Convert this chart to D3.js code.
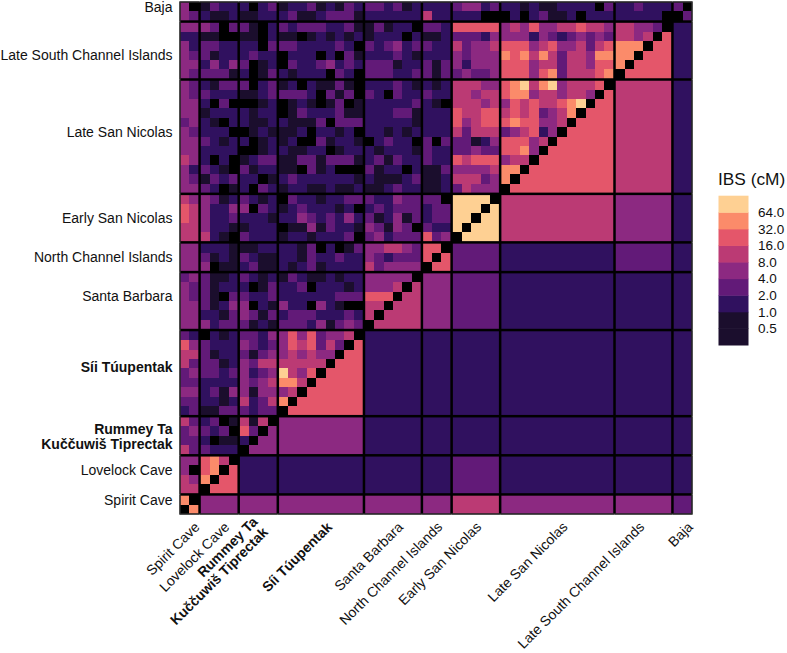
<!DOCTYPE html>
<html>
<head>
<meta charset="utf-8">
<script src="https://cdn.jsdelivr.net/npm/d3@7"></script>
<style>
  body { margin: 0; background: #fff; }
  text { font-family: "Liberation Sans", Arial, sans-serif; fill: #111; }
</style>
</head>
<body>
<div id="chart"></div>
<script>
// groups, bottom-left to top-right
const groups = ["Spirit Cave", "Lovelock Cave", "Rummey Ta\nKuččuwiš Tiprectak", "Síi Túupentak", "Santa Barbara",
  "North Channel Islands", "Early San Nicolas", "Late San Nicolas", "Late South Channel Islands", "Baja"];
const groupSizes = [2, 4, 4, 9, 6, 3, 5, 12, 6, 2];
const boldGroups = ["Rummey Ta\nKuččuwiš Tiprectak", "Síi Túupentak"];
// which sample of the group carries its axis label
const labelSample = [1, 2, 1.4, 4.6, 3, 1, 2, 6, 2, 1];

// IBS in cM stood for by each digit in the tables below (0 = none shared)
const binValues = [0, 0.7, 1.4, 2.8, 5.6, 11, 22, 45, 90];

// individual pairs: one row per sample from the top of the heatmap, left to right up to the diagonal
const pairRows = [
  "40 1322 2023 122312132 332312 222 34423 221211222203 223222 3",
  "43 2112 1122 231123331 222222 522 22200 020231120222 222220",
  "44 4303 3102 323332231 131220 332 66666 454644556554 55443",
  "22 1100 1102 110121212 122202 112 33324 444243234343 5545",
  "42 3322 2203 332222320 323423 322 53445 666456445356 777",
  "43 3122 2322 022202031 222321 222 43444 767575355477 77",
  "44 2424 3012 032234232 333122 313 42444 666455355466 7",
  "43 3331 2013 212220320 333223 313 34334 666467355567",
  "43 2133 3023 120211310 222321 212 55544 67857845556",
  "43 3222 1123 333203130 320322 322 55455 6774554554",
  "44 2030 0012 012101301 222223 210 55545 465655678",
  "44 1222 2122 013222311 222331 222 65566 56563457",
  "34 2102 2112 211130333 222221 222 64566 6766445",
  "43 2220 0121 112022120 221212 222 53555 345624",
  "44 3212 2012 120031221 023220 303 33124 66645",
  "44 2222 0012 211220122 212221 322 33433 6674",
  "54 2020 1233 113313331 231322 322 65666 455",
  "42 3210 3122 110312000 312202 113 44445 77",
  "43 1323 2201 232222221 211123 112 55534 7",
  "44 3201 2032 122112112 112322 112 35444",
  "54 4312 3212 032212233 322433 330 8888",
  "65 4224 4032 123222120 232333 233 888",
  "65 4223 2221 224323242 312413 233 88",
  "55 4221 1222 011413221 431430 322 8",
  "55 5210 3222 122122230 342333 634",
  "44 2221 1122 221302013 445543 66",
  "44 3121 3211 221322322 432333 6",
  "44 4011 2311 212312222 534444",
  "34 3112 3212 132112122 44444",
  "43 3122 2013 223022212 4445",
  "43 3103 3223 222222333 666",
  "44 3124 4021 422042100 55",
  "44 2213 4313 233322232 5",
  "44 4233 3121 333241343",
  "32 0212 3324 46463445",
  "64 3222 4323 4656353",
  "55 3122 3134 454544",
  "53 3312 4355 55555",
  "34 3323 4234 8546",
  "33 2222 4345 775",
  "44 2314 4144 45",
  "33 2212 5235 7",
  "23 1133 3233",
  "53 2301 515",
  "34 3230 63",
  "33 2011 2",
  "53 3222",
  "44 675",
  "40 67",
  "54 7",
  "55",
  "7",
  ""
];

// group means: groupMeans[a][b - a] for groups a <= b
const groupMeans = [
  [7, 4, 4, 4, 4, 4, 5, 4, 4, 3],
  [6, 2, 2, 2, 2, 3, 2, 2, 2],
  [4, 4, 2, 2, 2, 2, 2, 2],
  [6, 2, 2, 2, 2, 2, 2],
  [5, 4, 3, 2, 2, 2],
  [6, 3, 2, 3, 2],
  [8, 5, 4, 2],
  [6, 5, 2],
  [6, 2],
  [3]
];

const thresholds = [0.25, 1, 2, 4, 8, 16, 32, 64];
const binColors = ["#000000", "#1b0e2d", "#30115f", "#621a78", "#8c2981", "#bb3a74", "#e4566a", "#fb8b6a", "#fed093"];
const legendTicks = [0.5, 1, 2, 4, 8, 16, 32, 64];
const legendBreaks = [0.25, 0.5, 1, 2, 4, 8, 16, 32, 64, 128];

const width = 787, height = 653;
const plotLeft = 180, plotRight = 692, plotTop = 2, plotBottom = 514;
const gap = 0.16;
const lineStep = 14.6;

const svg = d3.select("#chart").append("svg").attr("width", width).attr("height", height);

// sample position = running index plus the gaps between panels
const nSamples = d3.sum(groupSizes);
const groupStart = Array.from(d3.cumsum([0].concat(groupSizes))).slice(0, groupSizes.length);
const posExtent = nSamples + gap * (groups.length - 1);
const x = d3.scaleLinear().domain([0, posExtent]).range([plotLeft, plotRight]);
const y = d3.scaleLinear().domain([0, posExtent]).range([plotBottom, plotTop]);
const color = d3.scaleThreshold().domain(thresholds).range(binColors);

const sampleGroup = [];
groupSizes.forEach((n, g) => d3.range(n).forEach(() => sampleGroup.push(g)));
const samplePos = d3.range(nSamples).map(i => i + sampleGroup[i] * gap);

const cells = [];
pairRows.forEach((row, r) => {
  const digits = row.replace(/ /g, "");
  const rowSample = nSamples - 1 - r;
  d3.range(nSamples).forEach(col => {
    let bin;
    if (col === rowSample) bin = 0;
    else if (col < rowSample) bin = +digits[col] || 0;
    else {
      const a = sampleGroup[rowSample], b = sampleGroup[col];
      bin = groupMeans[a][b - a];
    }
    cells.push({ row: rowSample, col: col, value: binValues[bin] });
  });
});

svg.append("rect")
  .attr("x", plotLeft).attr("y", plotTop)
  .attr("width", plotRight - plotLeft).attr("height", plotBottom - plotTop)
  .attr("fill", "#000");

svg.append("g").selectAll("rect")
  .data(cells)
  .join("rect")
  .attr("x", d => x(samplePos[d.col]))
  .attr("y", d => y(samplePos[d.row] + 1))
  .attr("width", x(1) - x(0))
  .attr("height", y(0) - y(1))
  .attr("fill", d => color(d.value))
  .attr("shape-rendering", "crispEdges");

// panel borders
const panels = [];
groups.forEach((_, a) => groups.forEach((_, b) => panels.push({ a, b })));
const panelStart = g => groupStart[g] + g * gap;
svg.append("g").selectAll("rect")
  .data(panels)
  .join("rect")
  .attr("x", d => x(panelStart(d.b)))
  .attr("y", d => y(panelStart(d.a) + groupSizes[d.a]))
  .attr("width", d => x(groupSizes[d.b]) - x(0))
  .attr("height", d => y(0) - y(groupSizes[d.a]))
  .attr("fill", "none")
  .attr("stroke", "#000")
  .attr("stroke-width", 1);

svg.append("rect")
  .attr("x", plotLeft).attr("y", plotTop)
  .attr("width", plotRight - plotLeft).attr("height", plotBottom - plotTop)
  .attr("fill", "none")
  .attr("stroke", "#333")
  .attr("stroke-width", 1.2);

// y labels
groups.forEach((name, g) => {
  const lines = name.split("\n");
  const cy = y(panelStart(g) + labelSample[g] + 0.5);
  const t = svg.append("text")
    .attr("text-anchor", "end")
    .attr("font-size", 14)
    .attr("font-weight", boldGroups.includes(name) ? "bold" : "normal");
  lines.forEach((line, i) => {
    t.append("tspan")
      .attr("x", 172.5)
      .attr("y", cy + (i - (lines.length - 1) / 2) * lineStep + 4.8)
      .text(line);
  });
});

// x labels
groups.forEach((name, g) => {
  const lines = name.split("\n");
  const cx = x(panelStart(g) + labelSample[g] + 0.5);
  const t = svg.append("text")
    .attr("transform", `translate(${cx + 3},${524.5}) rotate(-45)`)
    .attr("text-anchor", "end")
    .attr("font-size", 14)
    .attr("font-weight", boldGroups.includes(name) ? "bold" : "normal");
  lines.forEach((line, i) => {
    t.append("tspan")
      .attr("x", 0)
      .attr("y", (i - (lines.length - 1) / 2) * lineStep + 4.8)
      .text(line);
  });
});

// legend
const legendY = d3.scaleLog().base(2).domain([0.25, 128]).range([345, 195.7]);
const legend = svg.append("g");
legend.append("text")
  .attr("x", 718).attr("y", 185)
  .attr("font-size", 17.3)
  .text("IBS (cM)");
legend.selectAll("rect")
  .data(d3.pairs(legendBreaks))
  .join("rect")
  .attr("x", 718.5)
  .attr("y", d => legendY(d[1]))
  .attr("width", 30)
  .attr("height", d => legendY(d[0]) - legendY(d[1]) + 0.5)
  .attr("fill", d => color(d[0]));
legend.selectAll(".tick")
  .data(legendTicks)
  .join("text")
  .attr("class", "tick")
  .attr("x", 758)
  .attr("y", d => legendY(d) + 4.8)
  .attr("font-size", 13.5)
  .text(d => d.toFixed(1));
</script>
</body>
</html>
